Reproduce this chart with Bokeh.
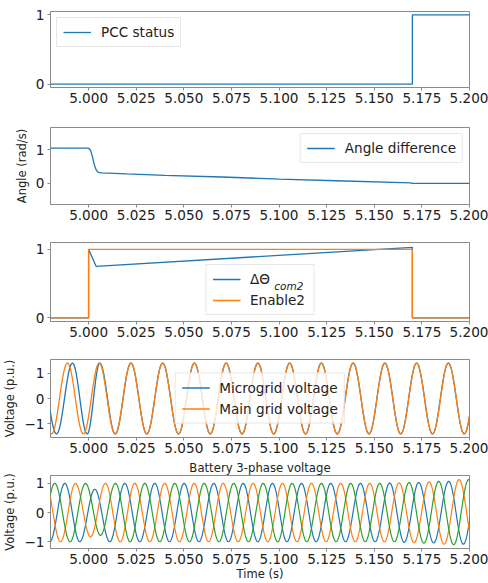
import numpy as np
from bokeh.plotting import figure
from bokeh.layouts import column
from bokeh.models import Range1d, FixedTicker, Legend, LegendItem, Label, NumeralTickFormatter
from bokeh.embed import file_html
from bokeh.resources import INLINE

# ---------------- data ----------------
x_range = (4.98, 5.2)
x_ticks = [5.000, 5.025, 5.050, 5.075, 5.100, 5.125, 5.150, 5.175, 5.200]

# panel 1: PCC status
pcc_t = [4.98, 5.17, 5.17, 5.2]
pcc_v = [0, 0, 1, 1]

# panel 2: angle difference
angle_t = [4.98, 5.000, 5.001, 5.002, 5.003, 5.004, 5.005, 5.007, 5.020, 5.040, 5.070, 5.100, 5.130, 5.169, 5.170, 5.2]
angle_v = [1.04, 1.04, 0.98, 0.80, 0.55, 0.40, 0.33, 0.31, 0.28, 0.24, 0.19, 0.13, 0.08, 0.02, 0.0, 0.0]

# panel 3: delta theta com2 and enable2
dtheta_t = [4.98, 5.0, 5.0, 5.004, 5.17, 5.17, 5.2]
dtheta_v = [0, 0, 1.0, 0.75, 1.03, 0, 0]
enable_t = [4.98, 5.0, 5.0, 5.17, 5.17, 5.2]
enable_v = [0, 0, 1, 1, 0, 0]

# panel 4: microgrid / main grid voltage (extrema)
grid_amp = 1.414
main_peak_t = [4.97223, 4.98890, 5.00557, 5.02223, 5.03890, 5.05557, 5.07223, 5.08890,
               5.10557, 5.12223, 5.13890, 5.15557, 5.17223, 5.18890, 5.20557]
main_trough_t = [4.98057, 4.99723, 5.01390, 5.03057, 5.04723, 5.06390, 5.08057, 5.09723,
                 5.11390, 5.13057, 5.14723, 5.16390, 5.18057, 5.19723]
micro_peak_t = [4.97460, 4.99155, 5.00588, 5.02223, 5.03890, 5.05557, 5.07223, 5.08890,
                5.10557, 5.12223, 5.13890, 5.15557, 5.17223, 5.18890, 5.20557]
micro_trough_t = [4.98315, 4.99927, 5.01400, 5.03057, 5.04723, 5.06390, 5.08057, 5.09723,
                  5.11390, 5.13057, 5.14723, 5.16390, 5.18057, 5.19723]

# panel 5: battery 3-phase voltage (extrema)
a_peak_t = [4.98751, 5.00325, 5.01900, 5.03475, 5.05018, 5.06572, 5.08116, 5.09654,
            5.11176, 5.12714, 5.14273, 5.15811, 5.17333, 5.18908, 5.20450]
a_peak_v = [1.0, 0.8, 1.0, 1.0, 1.0, 1.0, 1.0, 1.0, 1.0, 1.0, 1.0, 1.01, 1.03, 1.07, 1.1]
a_trough_t = [4.97964, 4.99538, 5.01112, 5.02687, 5.04246, 5.05795, 5.07344, 5.08885,
              5.10415, 5.11945, 5.13493, 5.15042, 5.16572, 5.18120, 5.19679]
a_trough_v = [-1.0, -1.0, -1.0, -1.0, -1.0, -1.0, -1.0, -1.0, -1.0, -1.0, -1.0, -1.0, -1.02, -1.04, -1.08]

b_peak_t = [4.97737, 4.99312, 5.00887, 5.02425, 5.04000, 5.05543, 5.07066, 5.08640,
            5.10178, 5.11701, 5.13239, 5.14761, 5.16304, 5.17879, 5.19454]
b_peak_v = [1.0, 1.0, 1.0, 1.0, 1.0, 1.0, 1.0, 1.0, 1.0, 1.0, 1.0, 1.0, 1.02, 1.05, 1.13]
b_trough_t = [4.98525, 5.00100, 5.01656, 5.03213, 5.04772, 5.06305, 5.07853, 5.09409,
              5.10940, 5.12470, 5.14000, 5.15533, 5.17092, 5.18667, 5.20242]
b_trough_v = [-1.0, -0.83, -1.0, -1.0, -1.0, -1.0, -1.0, -1.0, -1.0, -1.0, -1.0, -1.0, -1.03, -1.08, -1.12]

c_peak_t = [4.98226, 4.99837, 5.01412, 5.02950, 5.04525, 5.06068, 5.07622, 5.09166,
            5.10688, 5.12226, 5.13764, 5.15286, 5.16829, 5.18383, 5.19958]
c_peak_v = [1.0, 1.0, 1.0, 1.0, 1.0, 1.0, 1.0, 1.0, 1.0, 1.0, 1.0, 1.0, 1.03, 1.07, 1.13]
c_trough_t = [4.97420, 4.99031, 5.00625, 5.02181, 5.03738, 5.05296, 5.06845, 5.08394,
              5.09927, 5.11457, 5.12995, 5.14525, 5.16058, 5.17606, 5.19171, 5.20750]
c_trough_v = [-1.0, -1.0, -0.78, -1.0, -1.0, -1.0, -1.0, -1.0, -1.0, -1.0, -1.0, -1.0, -1.0, -1.05, -1.1, -1.12]

BLUE, ORANGE, GREEN = "#1f77b4", "#ff7f0e", "#2ca02c"
FONT = "DejaVu Sans"
TXT = "#222222"


def wave(peak_t, peak_v, trough_t, trough_v, n=24):
    ext = sorted(list(zip(peak_t, peak_v)) + list(zip(trough_t, trough_v)))
    xs, ys = [], []
    for (t0, v0), (t1, v1) in zip(ext[:-1], ext[1:]):
        s = np.linspace(0, 1, n, endpoint=False)
        xs.extend(t0 + s * (t1 - t0))
        ys.extend((v0 + v1) / 2 + (v0 - v1) / 2 * np.cos(np.pi * s))
    xs.append(ext[-1][0]); ys.append(ext[-1][1])
    return xs, ys


def make_fig(height, top, bottom, y_rng, y_ticks, ylabel=None, xlabel=None):
    p = figure(width=488, height=height, output_backend="svg", toolbar_location=None,
               x_range=Range1d(*x_range), y_range=Range1d(*y_rng),
               min_border_left=49, min_border_right=19, min_border_top=top, min_border_bottom=bottom)
    p.xgrid.visible = False
    p.ygrid.visible = False
    p.outline_line_color = "#8a8a8a"
    p.outline_line_width = 1
    p.background_fill_color = "white"
    p.border_fill_color = "white"
    for ax in (p.xaxis[0], p.yaxis[0]):
        ax.axis_line_color = None
        ax.major_tick_line_color = "#8a8a8a"
        ax.major_tick_in = 0
        ax.major_tick_out = 3
        ax.minor_tick_line_color = None
        ax.major_label_text_font = FONT
        ax.major_label_text_font_size = "13.6px"
        ax.major_label_text_color = TXT
        ax.axis_label_text_font = FONT
        ax.axis_label_text_font_size = "11.5px"
        ax.axis_label_text_font_style = "normal"
        ax.axis_label_text_color = TXT
    p.xaxis[0].ticker = FixedTicker(ticks=x_ticks)
    p.xaxis[0].formatter = NumeralTickFormatter(format="0.000")
    p.xaxis[0].major_label_standoff = 2
    p.yaxis[0].ticker = FixedTicker(ticks=y_ticks)
    p.yaxis[0].major_label_overrides = {t: ("\u2212" + str(abs(t)) if t < 0 else str(t)) for t in y_ticks}
    p.yaxis[0].major_label_standoff = 3
    if ylabel:
        p.yaxis[0].axis_label = ylabel
        p.yaxis[0].axis_label_standoff = 4
    if xlabel:
        p.xaxis[0].axis_label = xlabel
        p.xaxis[0].axis_label_standoff = 0
    return p


def style_legend(lg):
    lg.label_text_font = FONT
    lg.label_text_font_size = "13.6px"
    lg.label_text_color = TXT
    lg.border_line_color = "#d0d0d0"
    lg.background_fill_alpha = 0.8
    lg.glyph_width = 28
    lg.glyph_height = 14
    lg.label_height = 14
    lg.label_standoff = 10
    lg.padding = 6
    lg.spacing = 5
    lg.margin = 6


LW = 1.3

# ---- panel 1
p1 = make_fig(116, 11, 29, (-0.05, 1.05), [0, 1])
r1 = p1.line(pcc_t, pcc_v, color=BLUE, line_width=LW)
lg1 = Legend(items=[LegendItem(label="PCC status", renderers=[r1])], location="top_left")
style_legend(lg1)
p1.add_layout(lg1)

# ---- panel 2
p2 = make_fig(116, 11, 28, (-0.62, 1.65), [0, 1], ylabel="Angle (rad/s)")
r2 = p2.line(angle_t, angle_v, color=BLUE, line_width=LW)
lg2 = Legend(items=[LegendItem(label="Angle difference", renderers=[r2])], location="top_right")
style_legend(lg2)
p2.add_layout(lg2)

# ---- panel 3
p3 = make_fig(115, 10, 26, (-0.055, 1.1), [0, 1])
r3a = p3.line(dtheta_t, dtheta_v, color=BLUE, line_width=LW)
r3b = p3.line(enable_t, enable_v, color=ORANGE, line_width=LW)
lg3 = Legend(items=[LegendItem(label="\u0394\u0398", renderers=[r3a]),
                    LegendItem(label="Enable2", renderers=[r3b])], location="bottom_center")
style_legend(lg3)
lg3.label_width = 57
lg3.background_fill_alpha = 0.0
p3.add_layout(lg3)
p3.add_layout(Label(x=5.0975, y=0.47, text="com2", text_font=FONT, text_font_size="10.5px",
                    text_font_style="italic", text_color=TXT, text_baseline="alphabetic",
                    text_align="left", level="overlay"))

# ---- panel 4
p4 = make_fig(111, 12, 21, (-1.556, 1.556), [-1, 0, 1], ylabel="Voltage (p.u.)")
mx, my = wave(micro_peak_t, [grid_amp] * len(micro_peak_t), micro_trough_t, [-grid_amp] * len(micro_trough_t))
gx, gy = wave(main_peak_t, [grid_amp] * len(main_peak_t), main_trough_t, [-grid_amp] * len(main_trough_t))
r4a = p4.line(mx, my, color=BLUE, line_width=LW)
r4b = p4.line(gx, gy, color=ORANGE, line_width=LW)
lg4 = Legend(items=[LegendItem(label="Microgrid voltage", renderers=[r4a]),
                    LegendItem(label="Main grid voltage", renderers=[r4b])], location="center")
style_legend(lg4)
p4.add_layout(lg4)

# ---- panel 5
p5 = make_fig(125, 16, 31, (-1.23, 1.27), [-1, 0, 1], ylabel="Voltage (p.u.)", xlabel="Time (s)")
p5.title.text = "Battery 3-phase voltage"
p5.title.align = "center"
p5.title.text_font = FONT
p5.title.text_font_size = "11.7px"
p5.title.text_font_style = "normal"
p5.title.text_color = TXT
p5.title.standoff = 1
ax_, ay_ = wave(a_peak_t, a_peak_v, a_trough_t, a_trough_v)
bx_, by_ = wave(b_peak_t, b_peak_v, b_trough_t, b_trough_v)
cx_, cy_ = wave(c_peak_t, c_peak_v, c_trough_t, c_trough_v)
p5.line(ax_, ay_, color=BLUE, line_width=1.2)
p5.line(bx_, by_, color=ORANGE, line_width=1.2)
p5.line(cx_, cy_, color=GREEN, line_width=1.2)

layout = column(p1, p2, p3, p4, p5, spacing=0)
open("out.html", "w").write(file_html(layout, INLINE))
